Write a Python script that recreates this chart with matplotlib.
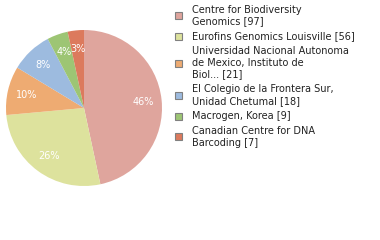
import matplotlib
matplotlib.use("Agg")
import matplotlib.pyplot as plt
import matplotlib.patches as mpatches

labels = ["Centre for Biodiversity\nGenomics [97]",
          "Eurofins Genomics Louisville [56]",
          "Universidad Nacional Autonoma\nde Mexico, Instituto de\nBiol... [21]",
          "El Colegio de la Frontera Sur,\nUnidad Chetumal [18]",
          "Macrogen, Korea [9]",
          "Canadian Centre for DNA\nBarcoding [7]"]
counts = [97, 56, 21, 18, 9, 7]
colors = ["#dfa59d", "#dde29d", "#eeab72", "#9dbbdf", "#9dc574", "#dc7a5d"]

W, H = 380, 240
fig = plt.figure(figsize=(W / 100, H / 100), dpi=100)
ax = fig.add_axes([6 / W, 1 - 186 / H, 156 / W, 156 / H])

total = sum(counts)
wedges, texts = ax.pie(counts, colors=colors, startangle=90, counterclock=False,
                       wedgeprops=dict(linewidth=0))
import numpy as np
for w, c in zip(wedges, counts):
    ang = np.deg2rad((w.theta1 + w.theta2) / 2)
    r = 0.76
    ax.text(r * np.cos(ang), r * np.sin(ang), "%d%%" % int(100 * c / total),
            ha="center", va="center", color="white", fontsize=7)
ax.set_xlim(-1, 1)
ax.set_ylim(-1, 1)
ax.set_aspect("equal")
ax.axis("off")

# legend drawn by hand
y = 10.0
line_h = 11.5
gap = 3.5
for lab, col in zip(labels, colors):
    lines = lab.split("\n")
    for i, ln in enumerate(lines):
        fig.text(192 / W, 1 - (y + i * line_h) / H, ln, ha="left", va="center",
                 fontsize=7, color="#222222")
    yc = y + (len(lines) - 1) * line_h / 2
    fig.patches.append(mpatches.Rectangle((175 / W, 1 - (yc + 3.5) / H), 7 / W, 7 / H,
                                          transform=fig.transFigure, facecolor=col,
                                          edgecolor="#808080", linewidth=0.8))
    y += len(lines) * line_h + gap

fig.savefig("out.png", dpi=100)
